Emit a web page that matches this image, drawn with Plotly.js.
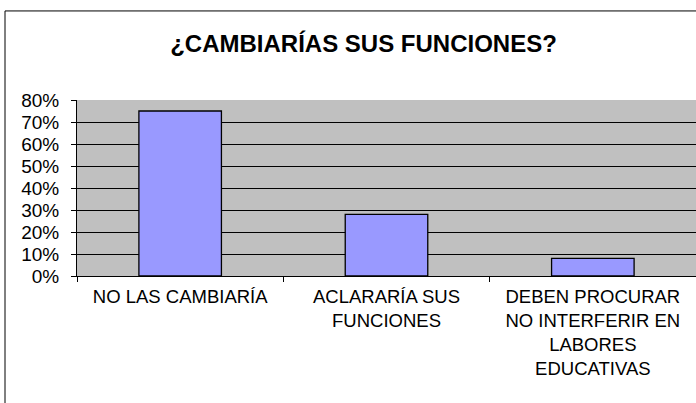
<!DOCTYPE html>
<html>
<head>
<meta charset="utf-8">
<script src="https://cdn.plot.ly/plotly-3.0.1.min.js"></script>
<style>
  body { margin: 0; background: #fff; }
  #plot { width: 696px; height: 403px; }
</style>
</head>
<body>
<div id="plot"></div>
<script>
// Categories and shares
let categories = [
    'NO LAS CAMBIARÍA',
    'ACLARARÍA SUS<br>FUNCIONES',
    'DEBEN PROCURAR<br>NO INTERFERIR EN<br>LABORES<br>EDUCATIVAS'
];
let shares = [0.75, 0.28, 0.08];
let yTicks = [0, 0.1, 0.2, 0.3, 0.4, 0.5, 0.6, 0.7, 0.8];

let trace = {
    x: categories,
    y: shares,
    type: 'bar',
    width: 0.4,
    marker: {color: '#9999FF', line: {color: '#000000', width: 1.3}},
    hoverinfo: 'none'
};

let layout = {
    width: 696,
    height: 403,
    margin: {l: 77, r: 0, t: 100, b: 127},
    paper_bgcolor: '#ffffff',
    plot_bgcolor: '#C0C0C0',
    font: {family: 'Liberation Sans, Arial, sans-serif', size: 18.5, color: '#000'},
    title: {
        text: '<b>¿CAMBIARÍAS SUS FUNCIONES?</b>',
        font: {size: 24, color: '#000'},
        x: 363.5 / 696, xref: 'container', xanchor: 'center',
        y: 1 - 43.5 / 403, yref: 'container', yanchor: 'middle'
    },
    xaxis: {
        type: 'category',
        range: [-0.5, 2.5],
        showgrid: false,
        showline: true,
        linecolor: '#000',
        linewidth: 1,
        ticks: 'outside',
        tickson: 'boundaries',
        ticklen: 5,
        tickcolor: '#000',
        tickfont: {size: 18.5},
        ticklabelstandoff: 4,
        fixedrange: true
    },
    yaxis: {
        range: [0, 0.8],
        tickvals: yTicks,
        tickformat: '.0%',
        showgrid: true,
        gridcolor: '#000',
        gridwidth: 1,
        showline: true,
        linecolor: '#000',
        ticks: 'outside',
        ticklen: 5,
        tickcolor: '#000',
        tickfont: {size: 19},
        ticklabelstandoff: 8,
        zeroline: false,
        fixedrange: true
    },
    shapes: [
        // outer chart frame (left and top edges visible)
        {type: 'line', xref: 'paper', yref: 'paper', x0: -0.1163, x1: -0.1163, y0: 1.506, y1: -0.9,
         line: {color: '#000', width: 1}},
        {type: 'line', xref: 'paper', yref: 'paper', x0: -0.1163, x1: 1.1, y0: 1.506, y1: 1.506,
         line: {color: '#000', width: 1}}
    ],
    showlegend: false
};

Plotly.newPlot('plot', [trace], layout, {displayModeBar: false, staticPlot: true});
</script>
</body>
</html>
